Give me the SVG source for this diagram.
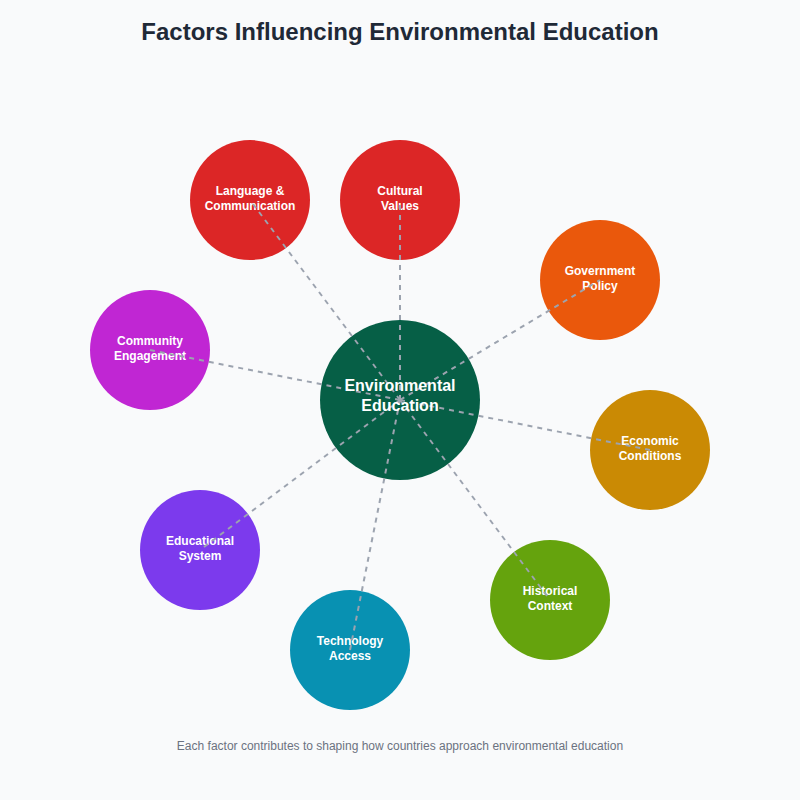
<svg xmlns="http://www.w3.org/2000/svg" width="800" height="800" viewBox="0 0 800 800">
<style>
.title{font-family:"Liberation Sans",Arial,sans-serif;font-size:24px;font-weight:bold;fill:#1f2937;text-anchor:middle}
.sub{font-family:"Liberation Sans",Arial,sans-serif;font-size:12px;fill:#6b7280;text-anchor:middle}
.lbl{font-family:"Liberation Sans",Arial,sans-serif;font-size:12px;font-weight:bold;fill:#ffffff;text-anchor:middle}
.clbl{font-family:"Liberation Sans",Arial,sans-serif;font-size:16px;font-weight:bold;fill:#ffffff;text-anchor:middle}
.conn line{stroke:#9ca3af;stroke-width:2;stroke-dasharray:5,5}
</style>
<rect width="800" height="800" fill="#f9fafb"/>
<text class="title" x="400" y="40">Factors Influencing Environmental Education</text>
<g id="node-center"><circle cx="400" cy="400" r="80" fill="#065f46"/></g>
<g id="node-language"><circle cx="250" cy="200" r="60" fill="#dc2626"/><text class="lbl" x="250" y="195">Language &amp;</text><text class="lbl" x="250" y="210">Communication</text></g>
<g id="node-cultural"><circle cx="400" cy="200" r="60" fill="#dc2626"/><text class="lbl" x="400" y="195">Cultural</text><text class="lbl" x="400" y="210">Values</text></g>
<g id="node-government"><circle cx="600" cy="280" r="60" fill="#ea580c"/><text class="lbl" x="600" y="275">Government</text><text class="lbl" x="600" y="290">Policy</text></g>
<g id="node-economic"><circle cx="650" cy="450" r="60" fill="#ca8a04"/><text class="lbl" x="650" y="445">Economic</text><text class="lbl" x="650" y="460">Conditions</text></g>
<g id="node-historical"><circle cx="550" cy="600" r="60" fill="#65a30d"/><text class="lbl" x="550" y="595">Historical</text><text class="lbl" x="550" y="610">Context</text></g>
<g id="node-technology"><circle cx="350" cy="650" r="60" fill="#0891b2"/><text class="lbl" x="350" y="645">Technology</text><text class="lbl" x="350" y="660">Access</text></g>
<g id="node-educational"><circle cx="200" cy="550" r="60" fill="#7c3aed"/><text class="lbl" x="200" y="545">Educational</text><text class="lbl" x="200" y="560">System</text></g>
<g id="node-community"><circle cx="150" cy="350" r="60" fill="#c026d3"/><text class="lbl" x="150" y="345">Community</text><text class="lbl" x="150" y="360">Engagement</text></g>
<g id="connectors" class="conn">
<line x1="400" y1="400" x2="250" y2="200"/>
<line x1="400" y1="400" x2="400" y2="200"/>
<line x1="400" y1="400" x2="600" y2="280"/>
<line x1="400" y1="400" x2="650" y2="450"/>
<line x1="400" y1="400" x2="550" y2="600"/>
<line x1="400" y1="400" x2="350" y2="650"/>
<line x1="400" y1="400" x2="200" y2="550"/>
<line x1="400" y1="400" x2="150" y2="350"/>
</g>
<g id="node-center-label"><text class="clbl" x="400" y="391">Environmental</text><text class="clbl" x="400" y="411">Education</text></g>
<text class="sub" x="400" y="750">Each factor contributes to shaping how countries approach environmental education</text>
</svg>
